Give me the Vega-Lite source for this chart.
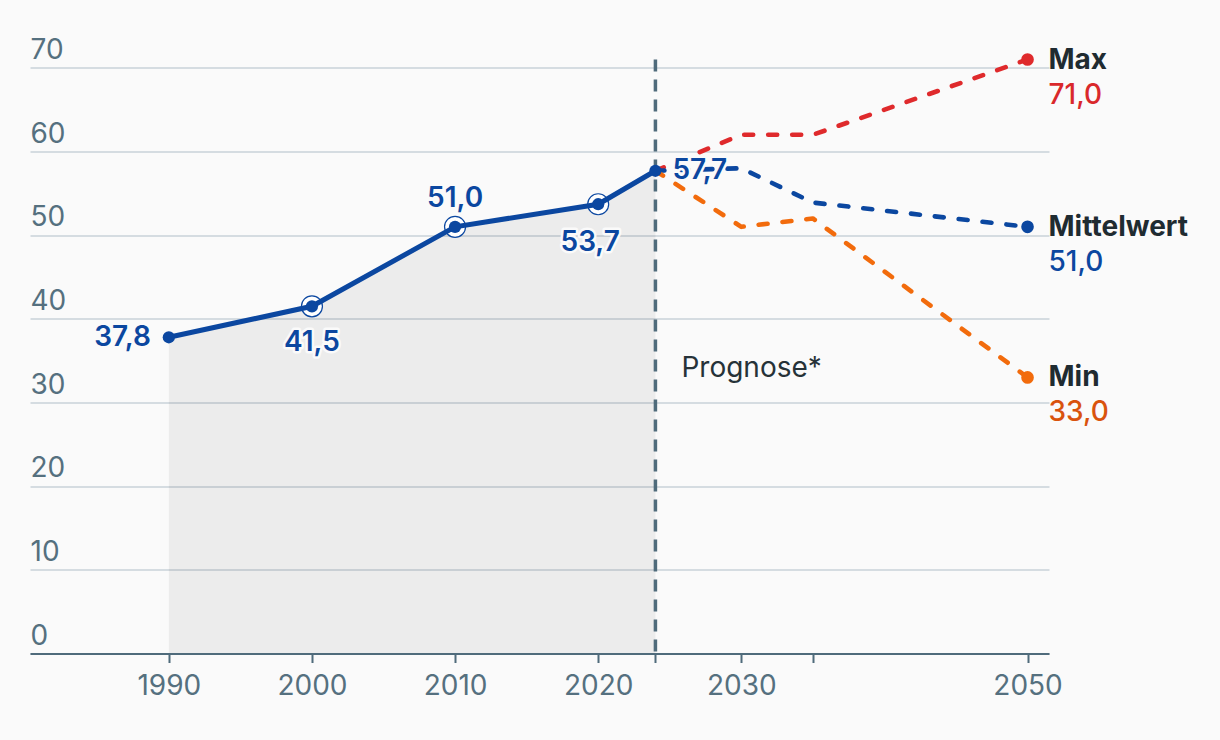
{
  "$schema": "https://vega.github.io/schema/vega-lite/v6.json",
  "width": 1019,
  "height": 594,
  "autosize": {"type": "none"},
  "padding": {"left": 30, "top": 59.5, "right": 171, "bottom": 86.5},
  "background": "#fafafa",
  "config": {"view": {"stroke": null}, "font": "Inter", "text": {"font": "Inter"}},
  "datasets": {
    "hist": [
      {"year": 1990, "value": 37.8, "label": "37,8"},
      {"year": 2000, "value": 41.5, "label": "41,5"},
      {"year": 2010, "value": 51.0, "label": "51,0"},
      {"year": 2020, "value": 53.7, "label": "53,7"},
      {"year": 2024, "value": 57.7, "label": "57,7"}
    ],
    "prognose": [
      {"series": "Max", "year": 2024, "value": 57.7, "label": "57,7"},
      {"series": "Max", "year": 2030, "value": 62.0, "label": "62,0"},
      {"series": "Max", "year": 2035, "value": 62.0, "label": "62,0"},
      {"series": "Max", "year": 2050, "value": 71.0, "label": "71,0"},
      {"series": "Mittelwert", "year": 2024, "value": 57.7, "label": "57,7"},
      {"series": "Mittelwert", "year": 2030, "value": 58.0, "label": "58,0"},
      {"series": "Mittelwert", "year": 2035, "value": 53.9, "label": "53,9"},
      {"series": "Mittelwert", "year": 2050, "value": 51.0, "label": "51,0"},
      {"series": "Min", "year": 2024, "value": 57.7, "label": "57,7"},
      {"series": "Min", "year": 2030, "value": 51.0, "label": "51,0"},
      {"series": "Min", "year": 2035, "value": 52.0, "label": "52,0"},
      {"series": "Min", "year": 2050, "value": 33.0, "label": "33,0"}
    ],
    "marker": [{"year": 2024, "value": 34, "text": "Prognose*"}]
  },
  "resolve": {"scale": {"color": "independent"}},
  "layer": [
    {
      "data": {"name": "hist"},
      "mark": {"type": "area", "color": "#000000", "fillOpacity": 0.056, "opacity": 1},
      "encoding": {
        "x": {
          "field": "year", "type": "quantitative",
          "scale": {"domain": [1980.3, 2051.5], "nice": false, "zero": false},
          "axis": {
            "values": [1990, 2000, 2010, 2020, 2024, 2030, 2035, 2050],
            "format": "d",
            "labelExpr": "(datum.value == 2024 || datum.value == 2035) ? '' : datum.label",
            "title": null, "grid": false,
            "domainColor": "#4f6b7b", "domainWidth": 2,
            "tickColor": "#4f6b7b", "tickWidth": 2, "tickSize": 9,
            "labelPadding": 10, "labelFontSize": 28, "labelFont": "Inter",
            "labelColor": "#55707f", "labelFlush": false, "labelOverlap": false,
            "zindex": 1
          }
        },
        "y": {
          "field": "value", "type": "quantitative",
          "scale": {"domain": [0, 71], "nice": false},
          "axis": {
            "values": [0, 10, 20, 30, 40, 50, 60, 70],
            "title": null, "domain": false, "ticks": false, "grid": true,
            "gridColor": "#c9d2d9", "gridWidth": 1.5,
            "labelAlign": "left", "labelBaseline": "alphabetic",
            "labelPadding": 0, "labelOffset": -9.5,
            "labelFontSize": 28, "labelFont": "Inter", "labelColor": "#55707f",
            "labelFlush": false, "labelOverlap": false
          }
        }
      }
    },
    {
      "data": {"name": "marker"},
      "mark": {"type": "rule", "color": "#4f6b7b", "strokeWidth": 3.5, "strokeDash": [12, 8]},
      "encoding": {"x": {"field": "year", "type": "quantitative"}}
    },
    {
      "data": {"name": "prognose"},
      "mark": {"type": "line", "strokeWidth": 4.6, "strokeDash": [9, 15], "strokeCap": "round", "strokeJoin": "round", "interpolate": "linear"},
      "encoding": {
        "x": {"field": "year", "type": "quantitative"},
        "y": {"field": "value", "type": "quantitative"},
        "color": {"field": "series", "type": "nominal", "scale": {"domain": ["Max", "Mittelwert", "Min"], "range": ["#df2a2c", "#0b47a0", "#f26b0c"]}, "legend": null},
        "order": {"field": "year"}
      }
    },
    {
      "data": {"name": "hist"},
      "transform": [{"filter": "datum.year == 2000 || datum.year == 2010 || datum.year == 2020"}],
      "mark": {"type": "point", "shape": "circle", "size": 441, "filled": false, "fill": "#ffffff", "stroke": "#0b47a0", "strokeWidth": 1.2, "opacity": 1},
      "encoding": {
        "x": {"field": "year", "type": "quantitative"},
        "y": {"field": "value", "type": "quantitative"}
      }
    },
    {
      "data": {"name": "hist"},
      "mark": {"type": "line", "color": "#0b47a0", "strokeWidth": 5},
      "encoding": {
        "x": {"field": "year", "type": "quantitative"},
        "y": {"field": "value", "type": "quantitative"}
      }
    },
    {
      "data": {"name": "hist"},
      "mark": {"type": "circle", "size": 150, "color": "#0b47a0", "opacity": 1},
      "encoding": {
        "x": {"field": "year", "type": "quantitative"},
        "y": {"field": "value", "type": "quantitative"}
      }
    },
    {
      "data": {"name": "prognose"},
      "transform": [{"filter": "datum.year == 2050"}],
      "mark": {"type": "circle", "size": 160, "opacity": 1},
      "encoding": {
        "x": {"field": "year", "type": "quantitative"},
        "y": {"field": "value", "type": "quantitative"},
        "color": {"field": "series", "type": "nominal", "scale": {"domain": ["Max", "Mittelwert", "Min"], "range": ["#df2a2c", "#0b47a0", "#f26b0c"]}, "legend": null}
      }
    },
    {
      "data": {"name": "hist"},
      "transform": [{"filter": "datum.year == 1990"}],
      "layer": [
        {"mark": {"type": "text", "align": "right", "baseline": "middle", "dx": -18, "dy": 1, "fontSize": 28, "fontWeight": 600, "stroke": "#fafafa", "strokeWidth": 5, "strokeJoin": "round", "color": "#fafafa"}},
        {"mark": {"type": "text", "align": "right", "baseline": "middle", "dx": -18, "dy": 1, "fontSize": 28, "fontWeight": 600, "color": "#0b47a0"}}
      ],
      "encoding": {
        "x": {"field": "year", "type": "quantitative"},
        "y": {"field": "value", "type": "quantitative"},
        "text": {"field": "label"}
      }
    },
    {
      "data": {"name": "hist"},
      "transform": [{"filter": "datum.year == 2000"}],
      "layer": [
        {"mark": {"type": "text", "align": "center", "baseline": "middle", "dy": 37, "fontSize": 28, "fontWeight": 600, "stroke": "#fafafa", "strokeWidth": 5, "strokeJoin": "round", "color": "#fafafa"}},
        {"mark": {"type": "text", "align": "center", "baseline": "middle", "dy": 37, "fontSize": 28, "fontWeight": 600, "color": "#0b47a0"}}
      ],
      "encoding": {
        "x": {"field": "year", "type": "quantitative"},
        "y": {"field": "value", "type": "quantitative"},
        "text": {"field": "label"}
      }
    },
    {
      "data": {"name": "hist"},
      "transform": [{"filter": "datum.year == 2010"}],
      "layer": [
        {"mark": {"type": "text", "align": "center", "baseline": "middle", "dy": -28, "fontSize": 28, "fontWeight": 600, "stroke": "#fafafa", "strokeWidth": 5, "strokeJoin": "round", "color": "#fafafa"}},
        {"mark": {"type": "text", "align": "center", "baseline": "middle", "dy": -28, "fontSize": 28, "fontWeight": 600, "color": "#0b47a0"}}
      ],
      "encoding": {
        "x": {"field": "year", "type": "quantitative"},
        "y": {"field": "value", "type": "quantitative"},
        "text": {"field": "label"}
      }
    },
    {
      "data": {"name": "hist"},
      "transform": [{"filter": "datum.year == 2020"}],
      "layer": [
        {"mark": {"type": "text", "align": "center", "baseline": "middle", "dx": -8, "dy": 39, "fontSize": 28, "fontWeight": 600, "stroke": "#fafafa", "strokeWidth": 5, "strokeJoin": "round", "color": "#fafafa"}},
        {"mark": {"type": "text", "align": "center", "baseline": "middle", "dx": -8, "dy": 39, "fontSize": 28, "fontWeight": 600, "color": "#0b47a0"}}
      ],
      "encoding": {
        "x": {"field": "year", "type": "quantitative"},
        "y": {"field": "value", "type": "quantitative"},
        "text": {"field": "label"}
      }
    },
    {
      "data": {"name": "hist"},
      "transform": [{"filter": "datum.year == 2024"}],
      "layer": [
        {"mark": {"type": "text", "align": "left", "baseline": "middle", "dx": 17, "dy": 0, "fontSize": 28, "fontWeight": 600, "stroke": "#fafafa", "strokeWidth": 5, "strokeJoin": "round", "color": "#fafafa"}},
        {"mark": {"type": "text", "align": "left", "baseline": "middle", "dx": 17, "dy": 0, "fontSize": 28, "fontWeight": 600, "color": "#0b47a0"}}
      ],
      "encoding": {
        "x": {"field": "year", "type": "quantitative"},
        "y": {"field": "value", "type": "quantitative"},
        "text": {"field": "label"}
      }
    },
    {
      "data": {"name": "prognose"},
      "transform": [{"filter": "datum.year == 2050"}],
      "mark": {"type": "text", "align": "left", "baseline": "middle", "dx": 21, "dy": 1, "fontSize": 28, "fontWeight": "bold", "color": "#1f2b31"},
      "encoding": {
        "x": {"field": "year", "type": "quantitative"},
        "y": {"field": "value", "type": "quantitative"},
        "text": {"field": "series"}
      }
    },
    {
      "data": {"name": "prognose"},
      "transform": [{"filter": "datum.year == 2050"}],
      "mark": {"type": "text", "align": "left", "baseline": "middle", "dx": 21, "dy": 36, "fontSize": 28, "fontWeight": 500},
      "encoding": {
        "x": {"field": "year", "type": "quantitative"},
        "y": {"field": "value", "type": "quantitative"},
        "text": {"field": "label"},
        "color": {"field": "series", "type": "nominal", "scale": {"domain": ["Max", "Mittelwert", "Min"], "range": ["#d9282b", "#0b47a0", "#d9530d"]}, "legend": null}
      }
    },
    {
      "data": {"name": "marker"},
      "mark": {"type": "text", "align": "left", "baseline": "middle", "dx": 26, "fontSize": 28, "fontWeight": 400, "color": "#263238"},
      "encoding": {
        "x": {"field": "year", "type": "quantitative"},
        "y": {"field": "value", "type": "quantitative"},
        "text": {"field": "text"}
      }
    }
  ]
}
